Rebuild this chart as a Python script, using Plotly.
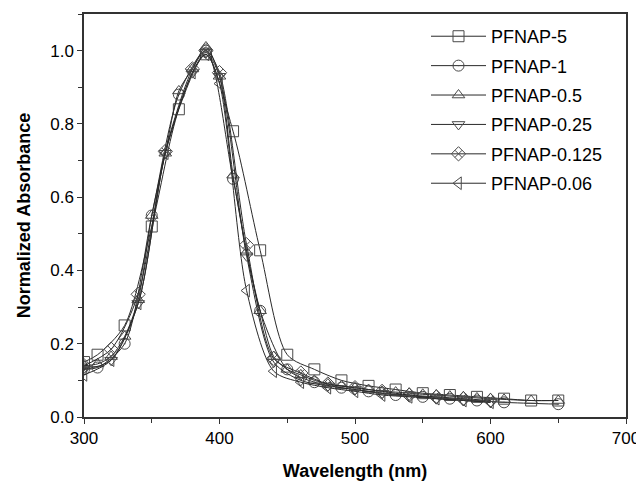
import plotly.graph_objects as go

# wavelength (nm) / normalized absorbance per sample
wl_5 = [300, 310, 330, 350, 370, 390, 410, 430, 450, 470, 490, 510, 530, 550, 570, 590, 610, 630, 650]
abs_5 = [0.15, 0.17, 0.25, 0.52, 0.84, 0.99, 0.78, 0.455, 0.17, 0.13, 0.10, 0.085, 0.075,
         0.065, 0.06, 0.055, 0.05, 0.045, 0.045]

wl_1 = [300, 310, 330, 350, 370, 390, 410, 430, 450, 470, 490, 510, 530, 550, 570, 590, 610, 650]
abs_1 = [0.13, 0.135, 0.2, 0.55, 0.88, 1.0, 0.65, 0.29, 0.13, 0.095, 0.08, 0.07, 0.06,
         0.055, 0.05, 0.045, 0.04, 0.035]

wl_05 = [300, 310, 320, 330, 340, 350, 360, 370, 380, 390, 400, 410, 420, 430, 440, 450,
         460, 470, 480, 490, 500, 510, 520, 530, 540, 550, 560, 570, 580, 590, 600, 610, 630, 650]
abs_05 = [0.14, 0.145, 0.165, 0.22, 0.32, 0.55, 0.72, 0.89, 0.95, 1.01, 0.93, 0.66, 0.45,
          0.29, 0.165, 0.13, 0.115, 0.1, 0.09, 0.085, 0.08, 0.075, 0.07, 0.068, 0.065,
          0.062, 0.06, 0.057, 0.055, 0.052, 0.05, 0.048, 0.045, 0.045]

wl_even = [300, 320, 340, 360, 380, 390, 400, 420, 440, 460, 480, 500, 520, 540, 560, 580, 600]
abs_025 = [0.13, 0.155, 0.31, 0.72, 0.94, 0.995, 0.93, 0.44, 0.15, 0.10, 0.085, 0.075, 0.065,
           0.06, 0.05, 0.045, 0.04]
abs_0125 = [0.14, 0.185, 0.335, 0.725, 0.95, 1.0, 0.94, 0.47, 0.16, 0.12, 0.09, 0.08, 0.07,
            0.06, 0.055, 0.05, 0.045]
abs_006 = [0.115, 0.155, 0.31, 0.72, 0.94, 0.99, 0.91, 0.345, 0.125, 0.095, 0.08, 0.07, 0.06,
           0.055, 0.05, 0.045, 0.04]

series = [
    ("PFNAP-5", wl_5, abs_5, "square-open"),
    ("PFNAP-1", wl_1, abs_1, "circle-open-dot"),
    ("PFNAP-0.5", wl_05, abs_05, "triangle-up-open"),
    ("PFNAP-0.25", wl_even, abs_025, "triangle-down-open"),
    ("PFNAP-0.125", wl_even, abs_0125, "diamond-x-open"),
    ("PFNAP-0.06", wl_even, abs_006, "triangle-left-open"),
]

fig = go.Figure()
for name, x, y, sym in series:
    fig.add_scatter(x=x, y=y, name=name, legendgroup=name, mode="lines+markers",
                    line=dict(color="#2a2a2a", width=1, shape="spline", smoothing=0.8),
                    marker=dict(symbol=sym, size=11, color="#4a4a4a",
                                line=dict(color="#4a4a4a", width=1)))

axis_common = dict(showline=True, linecolor="#333333", linewidth=1.5, mirror=True,
                   ticks="outside", ticklen=5, tickcolor="#333333", showgrid=False,
                   zeroline=False, automargin=False, tickfont=dict(size=17, color="black"))
fig.update_xaxes(range=[300, 700], dtick=100,
                 minor=dict(dtick=50, ticks="outside", ticklen=4, tickcolor="#333333"),
                 title=dict(text="<b>Wavelength (nm)</b>", font=dict(size=18, color="black"),
                            standoff=17),
                 **axis_common)
fig.update_yaxes(range=[0, 1.1], dtick=0.2, tickformat=".1f",
                 minor=dict(dtick=0.1, ticks="outside", ticklen=4, tickcolor="#333333"),
                 title=dict(text="<b>Normalized Absorbance</b>", font=dict(size=18, color="black"),
                            standoff=15),
                 **axis_common)
# the page body adds an 8px offset, so the figure is 8px smaller with trimmed margins
fig.update_layout(width=636, height=473, template="simple_white",
                  font=dict(family="Liberation Sans, Arial", size=17, color="black"),
                  margin=dict(l=76, r=18, t=6, b=64),
                  legend=dict(x=0.631, y=0.99, xanchor="left", yanchor="top",
                              bgcolor="rgba(0,0,0,0)", font=dict(size=18),
                              itemwidth=55, tracegroupgap=3))
fig.write_html("out.html")
